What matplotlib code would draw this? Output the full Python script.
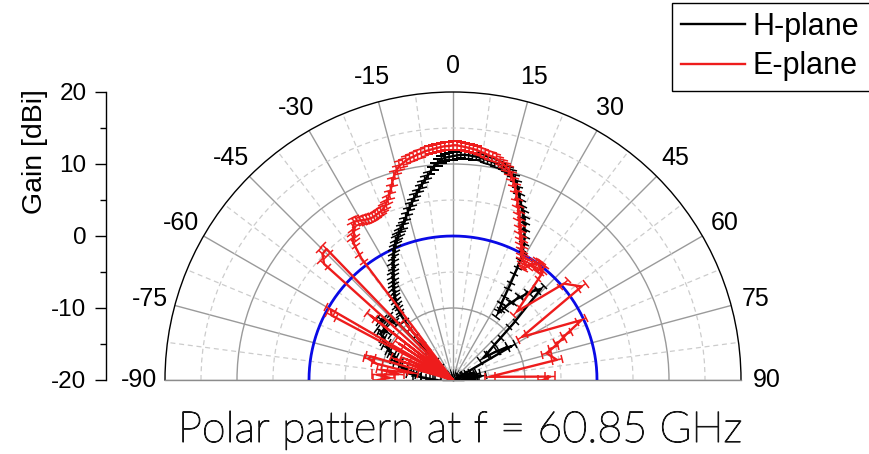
import numpy as np
import matplotlib
matplotlib.use("Agg")
import matplotlib.pyplot as plt
from matplotlib.markers import MarkerStyle
from matplotlib.transforms import Affine2D
from matplotlib import patheffects

plt.rcParams['axes.unicode_minus'] = False
plt.rcParams['font.family'] = ['Liberation Sans', 'DejaVu Sans']

# H-plane measurement: angle [deg], gain [dBi], uncertainty [dB]
h_angle = [-90, -88, -86, -84, -82, -80, -78, -76, -74, -72, -70, -68, -66, -64,
           -62, -60, -58, -56, -54, -52, -50, -48, -46, -44, -42, -41, -40, -39,
           -38, -37, -36, -35, -34, -33, -32, -31, -30, -29, -28, -27, -26, -25,
           -24, -23, -22, -21, -20, -19, -18, -17, -16, -15, -14, -13, -12, -11,
           -10, -9, -8, -7, -6, -5, -4, -3, -2, -1, 0, 1, 2, 3, 4, 5, 6, 7, 8, 9,
           10, 11, 12, 13, 14, 15, 16, 17, 18, 19, 20, 21, 22, 23, 24, 25, 26, 27,
           28, 29, 30, 31, 32, 33, 34, 36, 38, 40, 42, 44, 47, 49, 54, 56, 58, 60,
           62, 64, 66, 68, 70, 72, 74, 76, 78, 80, 82, 84, 86, 88, 90]
h_gain = [-17.8, -16.9, -16.2, -15.0, -14.2, -14.9, -13.4, -12.8, -12.1, -11.6,
          -11.8, -11.0, -10.6, -9.8, -9.5, -9.1, -8.3, -7.9, -8.7, -7.5, -7.0,
          -7.7, -8.5, -8.0, -17.0, -14.2, -11.4, -8.9,
          -7.6, -7.0, -6.4, -5.9, -5.4, -4.9, -4.4, -3.9, -3.4, -2.9, -2.3, -1.7,
          -1.1, -0.5, 0.0, 0.5, 1.0, 1.4, 1.8, 2.2, 2.6, 3.1, 3.6, 4.2, 4.8, 5.3,
          5.9, 6.4, 7.0, 7.5, 8.1, 8.6, 9.2, 9.8, 10.3, 10.7, 10.9, 11.0, 11.1,
          11.2, 11.3, 11.3, 11.3, 11.2, 11.2, 11.1, 11.0, 10.9, 10.8, 10.7, 10.6,
          10.5, 10.3, 10.1, 9.8, 9.3, 8.6, 7.8, 7.0, 6.3, 5.6, 5.0, 4.3, 3.5, 2.7,
          1.8, 0.9, -0.4, -2.5, -4.8, -6.9, -8.0, -8.8, -7.2, -5.8, -4.6, -3.4,
          -2.4, -8.7, -11.8, -14.8, -13.3, -11.8, -10.6,
          -19.0, -18.6, -19.2, -18.0, -17.2, -18.5, -17.5, -16.8, -17.9, -17.6,
          -16.0, -17.0, -18.2, -17.4, -18.8]
h_err = [0.6, 0.6, 0.6, 0.6, 0.6, 0.6, 0.6, 0.6, 0.6, 0.6, 0.6, 0.6, 0.6, 0.6,
         0.6, 0.6, 0.6, 0.6, 0.6, 0.6, 0.6, 0.6, 0.6, 0.6, 0.6, 0.6, 0.6, 0.6,
         0.5, 0.5, 0.5, 0.5, 0.5, 0.5, 0.5, 0.5, 0.5, 0.5, 0.5, 0.5, 0.5, 0.5,
         0.5, 0.5, 0.5, 0.5, 0.5, 0.5, 0.5, 0.5, 0.5, 0.5, 0.5, 0.5, 0.5, 0.5,
         0.5, 0.5, 0.5, 0.5, 0.5, 0.5, 0.5, 0.5, 0.5, 0.5, 0.5, 0.5, 0.5, 0.5,
         0.5, 0.5, 0.5, 0.5, 0.5, 0.5, 0.5, 0.5, 0.5, 0.5, 0.5, 0.5, 0.5, 0.5,
         0.5, 0.5, 0.5, 0.5, 0.5, 0.5, 0.5, 0.5, 0.5, 0.5, 0.5, 0.5, 0.5, 0.5,
         0.5, 0.6, 0.6, 0.6, 0.6, 0.6, 0.6, 0.6, 0.6, 0.6, 0.6, 0.6, 0.6, 0.6,
         0.6, 0.6, 0.6, 0.6, 0.6, 0.6, 0.6, 0.6, 0.6, 0.6, 0.6, 0.6, 0.6, 0.6,
         0.6]

# E-plane measurement: angle [deg], gain [dBi], uncertainty [dB]
e_angle = [-90, -88, -86, -84, -82, -80, -78, -76, -74, -72, -70, -68, -66, -64,
           -62, -60, -58, -56, -54, -52, -50, -48, -46, -44, -42, -40, -38,
           -37, -36, -35, -34, -33, -32, -31, -30, -29, -28, -27, -26, -25, -24,
           -23, -22, -21, -20, -19, -18, -17, -16, -15, -14, -13, -12, -11, -10,
           -9, -8, -7, -6, -5, -4, -3, -2, -1, 0, 1, 2, 3, 4, 5, 6, 7, 8, 9, 10,
           11, 12, 13, 14, 15, 16, 17, 18, 19, 20, 21, 22, 23, 24, 25, 26, 27, 28,
           29, 30, 31, 32, 33, 34, 35, 36, 37, 38, 39, 40, 43, 49, 54, 58, 65, 68,
           70, 72, 74, 79, 85, 88, 90]
e_gain = [-9.6, -11.2, -9.4, -12.4, -10.0, -14.3, -9.2, -7.9, -8.1, -20.0, -11.5,
          -20.0, -12.8, -20.0, -0.9, -0.4, -20.0, -11.0, -20.0, -5.5, -20.0, 4.1,
          5.2, 5.3, -20.0, -10.0, -20.0,
          1.1, 3.6, 4.1, 4.6, 5.4, 5.9, 5.8, 5.6, 5.4, 5.3, 5.2, 5.2, 5.3, 5.4,
          5.5, 5.7, 6.1, 6.6, 7.2, 7.9, 8.8, 9.6, 10.2, 10.7, 10.9, 11.2, 11.4,
          11.5, 11.7, 11.8, 12.0, 12.1, 12.2, 12.3, 12.4, 12.5, 12.5, 12.6, 12.6,
          12.5, 12.4, 12.3, 12.2, 12.1, 11.9, 11.8, 11.6, 11.5, 11.4, 11.1, 10.8,
          10.5, 10.1, 9.5, 8.8, 8.0, 7.1, 6.2, 5.3, 4.5, 3.7, 2.9, 2.2, 1.6, 1.0,
          0.3, -0.2, -0.6, -0.9, -1.0, -1.2, -0.6, -0.3, -0.1, 0.0, -0.4, -0.2,
          -1.0, -7.0, 0.4, 2.1, -8.7, -0.3, -3.0, -4.2, -5.3, -6.5, -5.3, -14.9,
          -6.5, -7.5]
e_err = [0.7, 0.7, 0.7, 0.7, 0.7, 0.7, 0.7, 0.7, 0.7, 0.0, 0.7, 0.0, 0.7, 0.0,
         0.7, 0.7, 0.0, 0.7, 0.0, 0.7, 0.0, 0.7, 0.7, 0.7, 0.0, 0.7, 0.0,
         0.6, 0.6, 0.6, 0.6, 0.6, 0.6, 0.6, 0.6, 0.6, 0.6, 0.6, 0.6, 0.6,
         0.6, 0.6, 0.6, 0.6, 0.6, 0.6, 0.6, 0.6, 0.6, 0.6, 0.6, 0.6, 0.6,
         0.6, 0.6, 0.6, 0.6, 0.6, 0.6, 0.6, 0.6, 0.6, 0.6, 0.6, 0.6, 0.6,
         0.6, 0.6, 0.6, 0.6, 0.6, 0.6, 0.6, 0.6, 0.6, 0.6, 0.6, 0.6, 0.6,
         0.6, 0.6, 0.6, 0.6, 0.6, 0.6, 0.6, 0.6, 0.6, 0.6, 0.6, 0.6, 0.6,
         0.6, 0.6, 0.6, 0.6, 0.6, 0.6, 0.6, 0.6, 0.6, 0.6, 0.6, 0.6, 0.6,
         0.7, 0.7, 0.7, 0.7, 0.7, 0.7, 0.7, 0.7, 0.7, 0.7, 0.7, 0.7, 0.7]

angle_ticks = [-90, -75, -60, -45, -30, -15, 0, 15, 30, 45, 60, 75, 90]
angle_labels = ['-90', '-75', '-60', '-45', '-30', '-15', '0', '15', '30', '45',
                '60', '75', '90']
angle_minor = [-82.5, -67.5, -52.5, -37.5, -22.5, -7.5, 7.5, 22.5, 37.5, 52.5,
               67.5, 82.5]
gain_ticks = [-20, -10, 0, 10, 20]
gain_labels = ['-20', '-10', '0', '10', '20']
gain_minor = [-15, -5, 5, 15]
gain_min, gain_max = -20, 20
ref_gain = 0
series_names = ['H-plane', 'E-plane']
series_colors = ['#000000', '#ee1c1c']
title_text = 'Polar pattern at f = 60.85 GHz'

W, H = 870, 454
fig = plt.figure(figsize=(W / 100, H / 100), dpi=100)

# Polar axes box is square; the upper half-disc sits in its middle band
cx, cy, R = 453, 380, 288
ax = fig.add_axes([(cx - R) / W, (H - cy - R / 2) / H, 2 * R / W, 2 * R / H],
                  projection='polar')
ax.set_theta_zero_location('N')
ax.set_theta_direction(-1)
ax.set_thetamin(-90)
ax.set_thetamax(90)
ax.set_rlim(gain_min, gain_max)

ax.set_xticks(np.deg2rad(angle_ticks))
ax.set_xticklabels(angle_labels)
ax.set_xticks(np.deg2rad(angle_minor), minor=True)
ax.set_yticks([-10, 0, 10])
ax.set_yticks(gain_minor, minor=True)
ax.set_yticklabels([])
ax.tick_params(axis='y', which='both', length=0)
ax.tick_params(axis='x', which='both', bottom=True, top=False, direction='in',
               color='black', width=1.0)
ax.tick_params(axis='x', which='major', length=8, labelsize=18, pad=11.5)
ax.tick_params(axis='x', which='minor', length=4.5)
ax.grid(True, which='major', color='#9a9a9a', lw=1.0, ls='-')
ax.grid(True, which='minor', color='#cccccc', lw=0.9, ls=(0, (4, 3)))
ax.spines['polar'].set_color('black')
ax.spines['polar'].set_linewidth(1.0)
for side in ('start', 'end'):
    ax.spines[side].set_color('#8c8c8c')
    ax.spines[side].set_linewidth(1.0)

# 0 dBi reference circle
ref_theta = np.deg2rad(np.linspace(-90, 90, 361))
ax.plot(ref_theta, np.full(ref_theta.shape, ref_gain), color='#0a0ae6', lw=2.0,
        zorder=3)


def draw_series(ang, gain, err, color, z):
    ang = np.asarray(ang, float)
    th = np.deg2rad(ang)
    g = np.asarray(gain, float)
    e = np.asarray(err, float)
    lo = np.minimum(e, g - gain_min)
    ax.errorbar(th, g, yerr=[lo, e], fmt='none', ecolor=color, elinewidth=1.1,
                capsize=0, zorder=z)
    line, = ax.plot(th, g, color=color, lw=1.7, zorder=z + 0.1)
    for t, a, v, l, u in zip(th, ang, g, lo, e):
        cap = MarkerStyle('_', transform=Affine2D().rotate_deg(-a))
        ends = [r for r, d in ((v - l, l), (v + u, u)) if d > 0]
        if ends:
            ax.plot([t] * len(ends), ends, ls='none', marker=cap, ms=6.5,
                    mew=1.1, color=color, zorder=z)
    return line


h_line = draw_series(h_angle, h_gain, h_err, series_colors[0], 4)
e_line = draw_series(e_angle, e_gain, e_err, series_colors[1], 5)

# Linear gain scale on the left
yax = fig.add_axes([106 / W, (H - cy) / H, 0.001, R / H])
yax.set_ylim(gain_min, gain_max)
for s in ('top', 'right', 'bottom'):
    yax.spines[s].set_visible(False)
yax.spines['left'].set_linewidth(1.0)
yax.patch.set_visible(False)
yax.set_xticks([])
yax.set_yticks(gain_ticks)
yax.set_yticklabels(gain_labels)
yax.set_yticks(gain_minor, minor=True)
yax.tick_params(axis='y', which='major', direction='out', length=8, width=1,
                labelsize=17.5, pad=6)
yax.tick_params(axis='y', which='minor', direction='out', length=4.5, width=1)
fig.text(35 / W, 1 - 152 / H, 'Gain [dBi]', rotation=90, ha='center',
         va='center', fontsize=20.5)

# Legend frame runs past the right edge of the canvas
fig.legend([h_line, e_line], series_names, loc='upper left',
           bbox_to_anchor=(672 / W, 0, 215 / W, 1 - 3 / H), mode='expand',
           frameon=True, fancybox=False, edgecolor='black', framealpha=1,
           fontsize=22, handlelength=2.1, handletextpad=0.23, borderpad=0.3,
           labelspacing=0.3, borderaxespad=0)

fig.text(460 / W, 1 - 442 / H, title_text, ha='center', va='baseline',
         fontsize=31, family=['Lato', 'DejaVu Sans'], fontweight='light',
         color='#151515',
         path_effects=[patheffects.withStroke(linewidth=0.8,
                                              foreground='#151515')])

fig.savefig('out.png', dpi=100)
